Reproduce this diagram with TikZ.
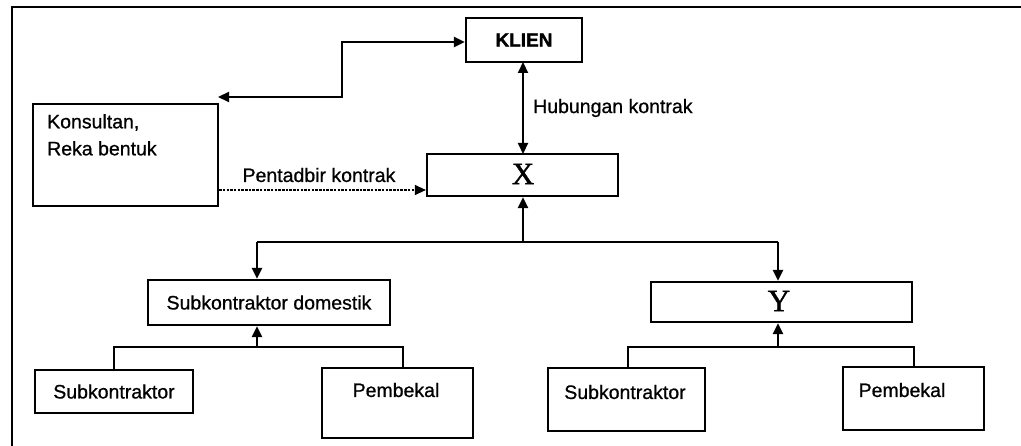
\documentclass[tikz,border=0pt]{standalone}
\usepackage{fontspec}
\setmainfont{Liberation Sans}[FakeBold=1.5]
\newfontfamily\sansT{Liberation Sans}[FakeBold=0.8]
\newfontfamily\serifX{Liberation Serif}[FakeBold=1.2]
\usetikzlibrary{arrows.meta}
\tikzset{
  box/.style={draw, line width=2.2pt, rectangle, inner sep=0pt},
  txt/.style={inner sep=0pt, font=\sansT\fontsize{19.5}{24}\selectfont},
  big/.style={inner sep=0pt, font=\serifX\fontsize{31}{32}\selectfont},
  conn/.style={line width=2.2pt},
  arr/.style={line width=2.2pt, -{Triangle[length=11pt,width=10pt]}},
  darr/.style={line width=2.2pt, {Triangle[length=11pt,width=10pt]}-{Triangle[length=11pt,width=10pt]}},
  dasharr/.style={line width=1.2pt, dash pattern=on 2.5pt off 1.2pt, -{Triangle[length=11pt,width=10pt]}}
}
\begin{document}
\begin{tikzpicture}[x=1pt,y=-1pt]
\useasboundingbox (0,0) rectangle (1021,446);
% frame
\coordinate (fbl) at (12,446);
\coordinate (ftl) at (12,7);
\coordinate (ftr) at (1021,7);
\draw[line width=2.6pt] (fbl) -- (ftl) -- (ftr);

% boxes
\node[box, minimum width=116pt, minimum height=44pt, font=\bfseries\fontsize{19}{24}\selectfont] (klien) at (524,40) {KLIEN};
\node[box, minimum width=185pt, minimum height=102pt] (kons) at (125.5,155) {};
\node[txt, anchor=north west, align=left, font=\sansT\fontsize{19.5}{27}\selectfont] (konsT) at (47,114) {Konsultan,\\Reka bentuk};
\node[box, minimum width=191pt, minimum height=42pt] (x) at (522.5,175) {};
\node[big] (xT) at (523,174) {X};
\node[box, minimum width=242pt, minimum height=45pt, txt] (sd) at (269,302.5) {Subkontraktor domestik};
\node[box, minimum width=261pt, minimum height=40pt] (y) at (781.5,302) {};
\node[big] (yT) at (779,301) {Y};
\node[box, minimum width=158pt, minimum height=43pt, txt] (subL) at (114,391.5) {Subkontraktor};
\node[box, minimum width=151pt, minimum height=70pt] (pemL) at (397.5,403) {};
\node[txt] (pemLT) at (396,390) {Pembekal};
\node[box, minimum width=157pt, minimum height=63pt] (subR) at (626.5,399.5) {};
\node[txt] (subRT) at (625,392) {Subkontraktor};
\node[box, minimum width=141pt, minimum height=63pt] (pemR) at (913.5,398.5) {};
\node[txt] (pemRT) at (902,390) {Pembekal};

% labels
\node[txt] (lblP) at (319,175) {Pentadbir kontrak};
\node[txt, anchor=west] (lblH) at (533,108) {Hubungan kontrak};

% Konsultan <-> KLIEN
\coordinate (kc) at (218,97);
\coordinate (k1) at (342,97);
\coordinate (k2) at (342,42);
\draw[darr] (kc) -- (k1) -- (k2) -- (k2 -| klien.west);

% KLIEN <-> X
\draw[darr] (523,62) -- (523,154);

% Konsultan -> X dashed
\coordinate (dk) at (kons.east |- 0,190);
\draw[dasharr] (dk) -- (dk -| x.west);

% X level junction
\coordinate (jx) at (523,242);
\coordinate (ja) at (257,242);
\coordinate (jy) at (778,242);
\draw[arr] (jx) -- (jx |- x.south);
\draw[conn] (ja) -- (jy);
\draw[arr] (ja) -- (ja |- sd.north);
\draw[arr] (jy) -- (jy |- y.north);

% Subkontraktor domestik group
\coordinate (jb) at (257,347);
\coordinate (jbl) at (114,347);
\coordinate (jbr) at (403,347);
\draw[arr] (jb) -- (jb |- sd.south);
\draw[conn] (subL.north) -- (jbl) -- (jbr) -- (jbr |- pemL.north);

% Y group
\coordinate (jc) at (778,347);
\coordinate (jcl) at (628,347);
\coordinate (jcr) at (914,347);
\draw[arr] (jc) -- (jc |- y.south);
\draw[conn] (jcl |- subR.north) -- (jcl) -- (jcr) -- (jcr |- pemR.north);
\end{tikzpicture}
\end{document}
